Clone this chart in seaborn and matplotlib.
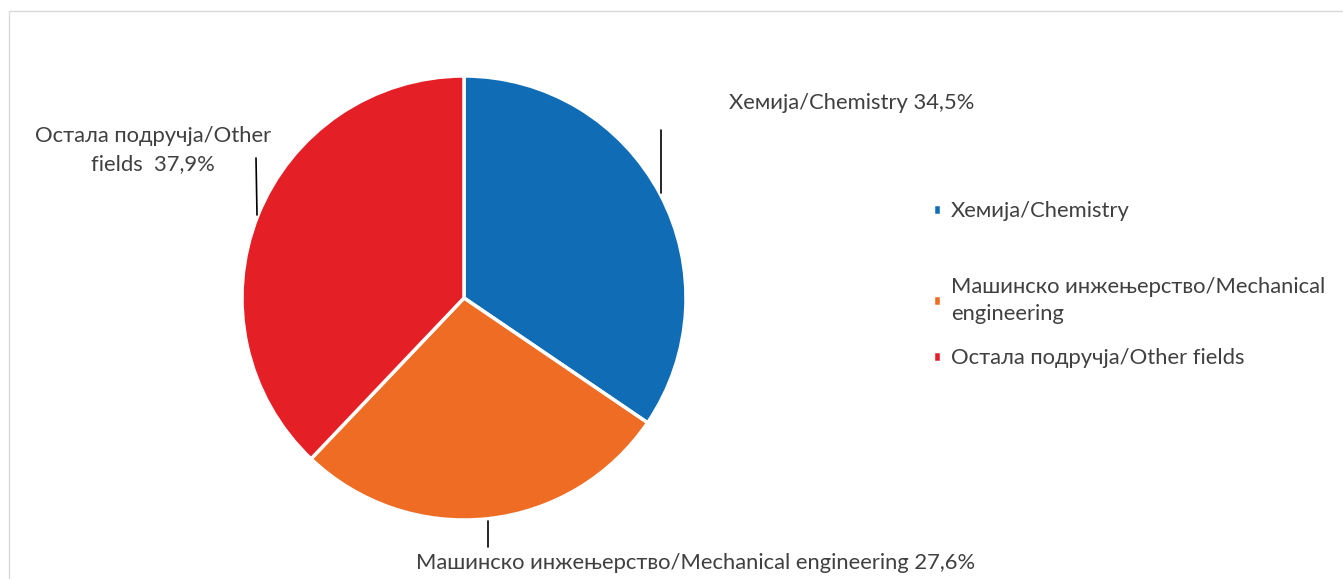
import matplotlib
matplotlib.use("Agg")
import matplotlib.pyplot as plt
import seaborn as sns
from matplotlib.patches import Rectangle

# Data
fields = ["Хемија/Chemistry",
          "Машинско инжењерство/Mechanical engineering",
          "Остала подручја/Other fields"]
legend_labels = ["Хемија/Chemistry",
                 "Машинско инжењерство/Mechanical\nengineering",
                 "Остала подручја/Other fields"]
shares = [34.5, 27.6, 37.9]
colors = ["#106cb5", "#ee6c23", "#e41f26"]

sns.set_theme(style="white")
plt.rcParams['font.family'] = ['Lato', 'DejaVu Sans']
text_color = "#404040"
fs = 15.8

W, H = 1343, 579
fig = plt.figure(figsize=(W / 100, H / 100), dpi=100)
ax = fig.add_axes([0, 0, 1, 1])

wedges, _ = ax.pie(shares, colors=colors, startangle=90, counterclock=False,
                   center=(464, H - 298), radius=222,
                   wedgeprops=dict(edgecolor="white", linewidth=2.5))
ax.set_xlim(0, W)
ax.set_ylim(0, H)
ax.set_aspect("auto")
ax.axis("off")

# outer chart frame (only top and left edges are visible)
fig.patches.append(Rectangle((9 / W, -1), 2, 2 - 11 / H, transform=fig.transFigure,
                             fill=False, edgecolor="#d9d9d9", linewidth=1))


def pct(v):
    return f"{v:.1f}".replace(".", ",") + "%"


# data labels with leader lines
ax.text(729, H - 103, f"{fields[0]} {pct(shares[0])}", fontsize=fs,
        color=text_color, ha="left", va="center")
ax.plot([661, 661], [H - 130, H - 193], color="black", lw=1.2)

ax.text(153, H - 150, f"Остала подручја/Other\nfields  {pct(shares[2])}",
        fontsize=fs, color=text_color, ha="center", va="center",
        linespacing=1.5)
ax.plot([256, 257], [H - 158, H - 215], color="black", lw=1.2)

ax.text(416, H - 563, f"{fields[1]} {pct(shares[1])}", fontsize=fs,
        color=text_color, ha="left", va="center")
ax.plot([488, 488], [H - 521, H - 547], color="black", lw=1.2)

# legend (split to mimic uneven spacing)
common = dict(frameon=False, fontsize=fs, labelcolor=text_color,
              handlelength=0.38, handleheight=0.38, handletextpad=0.45,
              borderpad=0, borderaxespad=0)
leg1 = ax.legend(wedges[:1], legend_labels[:1], loc="center left",
                 bbox_to_anchor=(933 / W, 1 - 211 / H), **common)
ax.add_artist(leg1)
leg2 = ax.legend(wedges[1:], legend_labels[1:], loc="upper left",
                 bbox_to_anchor=(933 / W, 1 - 277 / H), labelspacing=1.1,
                 **common)
for t in leg2.get_texts():
    t.set_linespacing(1.45)

fig.savefig("out.png", dpi=100)
